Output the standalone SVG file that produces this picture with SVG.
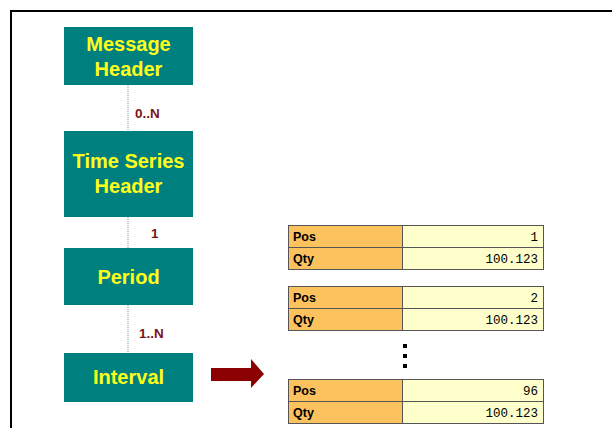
<svg xmlns="http://www.w3.org/2000/svg" width="612" height="428" viewBox="0 0 612 428">
<defs>
<style>
.node{fill:#007f7f}
.nt{font-family:"Liberation Sans",Arial,sans-serif;font-weight:bold;font-size:20px;fill:#ffff1a;text-anchor:middle}
.lbl{font-family:"Liberation Sans",Arial,sans-serif;font-weight:bold;font-size:13.5px;fill:#7a1515}
.conn{stroke:#7a9aa8;stroke-width:1;stroke-dasharray:1 1;fill:none}
.kc{fill:#fbc25e;stroke:#555;stroke-width:1}
.vc{fill:#ffffcc;stroke:#555;stroke-width:1}
.kt{font-family:"Liberation Sans",Arial,sans-serif;font-weight:bold;font-size:12.5px;fill:#000}
.vt{font-family:"Liberation Mono","Courier New",monospace;font-size:12.5px;fill:#000;text-anchor:end}
</style>
</defs>
<rect width="612" height="428" fill="#fff"/>
<path d="M11 428 V11 H612" fill="none" stroke="#000" stroke-width="2"/>
<g id="connectors">
<line class="conn" x1="128" y1="85" x2="128" y2="131"/>
<line class="conn" x1="128" y1="217" x2="128" y2="248"/>
<line class="conn" x1="128" y1="305" x2="128" y2="353"/>
<text class="lbl" x="135" y="118">0..N</text>
<text class="lbl" x="151" y="238">1</text>
<text class="lbl" x="139" y="338">1..N</text>
<polygon points="211,368 251,368 251,359 264,374 251,388 251,381 211,381" fill="#8b0000"/>
</g>
<g id="message-header">
<rect class="node" x="64" y="27" width="129" height="58"/>
<text class="nt" x="128.5" y="51">Message</text>
<text class="nt" x="128.5" y="76">Header</text>
</g>
<g id="time-series-header">
<rect class="node" x="64" y="131" width="129" height="86"/>
<text class="nt" x="128.5" y="168">Time Series</text>
<text class="nt" x="128.5" y="193">Header</text>
</g>
<g id="period">
<rect class="node" x="64" y="248" width="129" height="57"/>
<text class="nt" x="128.5" y="284">Period</text>
</g>
<g id="interval">
<rect class="node" x="64" y="353" width="129" height="49"/>
<text class="nt" x="128.5" y="384">Interval</text>
</g>
<g id="table1">
<rect class="kc" x="288.5" y="225.5" width="114" height="22"/>
<rect class="vc" x="402.5" y="225.5" width="141" height="22"/>
<rect class="kc" x="288.5" y="247.5" width="114" height="22"/>
<rect class="vc" x="402.5" y="247.5" width="141" height="22"/>
<text class="kt" x="293" y="241">Pos</text>
<text class="kt" x="293" y="263">Qty</text>
<text class="vt" x="538" y="241">1</text>
<text class="vt" x="538" y="263">100.123</text>
</g>
<g id="table2">
<rect class="kc" x="288.5" y="286.5" width="114" height="22"/>
<rect class="vc" x="402.5" y="286.5" width="141" height="22"/>
<rect class="kc" x="288.5" y="308.5" width="114" height="22"/>
<rect class="vc" x="402.5" y="308.5" width="141" height="22"/>
<text class="kt" x="293" y="302">Pos</text>
<text class="kt" x="293" y="324">Qty</text>
<text class="vt" x="538" y="302">2</text>
<text class="vt" x="538" y="324">100.123</text>
</g>
<g id="ellipsis">
<rect x="403" y="344" width="4" height="4" fill="#000"/>
<rect x="403" y="354" width="4" height="4" fill="#000"/>
<rect x="403" y="364" width="4" height="4" fill="#000"/>
</g>
<g id="table3">
<rect class="kc" x="288.5" y="379.5" width="114" height="22"/>
<rect class="vc" x="402.5" y="379.5" width="141" height="22"/>
<rect class="kc" x="288.5" y="401.5" width="114" height="22"/>
<rect class="vc" x="402.5" y="401.5" width="141" height="22"/>
<text class="kt" x="293" y="395">Pos</text>
<text class="kt" x="293" y="417">Qty</text>
<text class="vt" x="538" y="395">96</text>
<text class="vt" x="538" y="417">100.123</text>
</g>
</svg>
